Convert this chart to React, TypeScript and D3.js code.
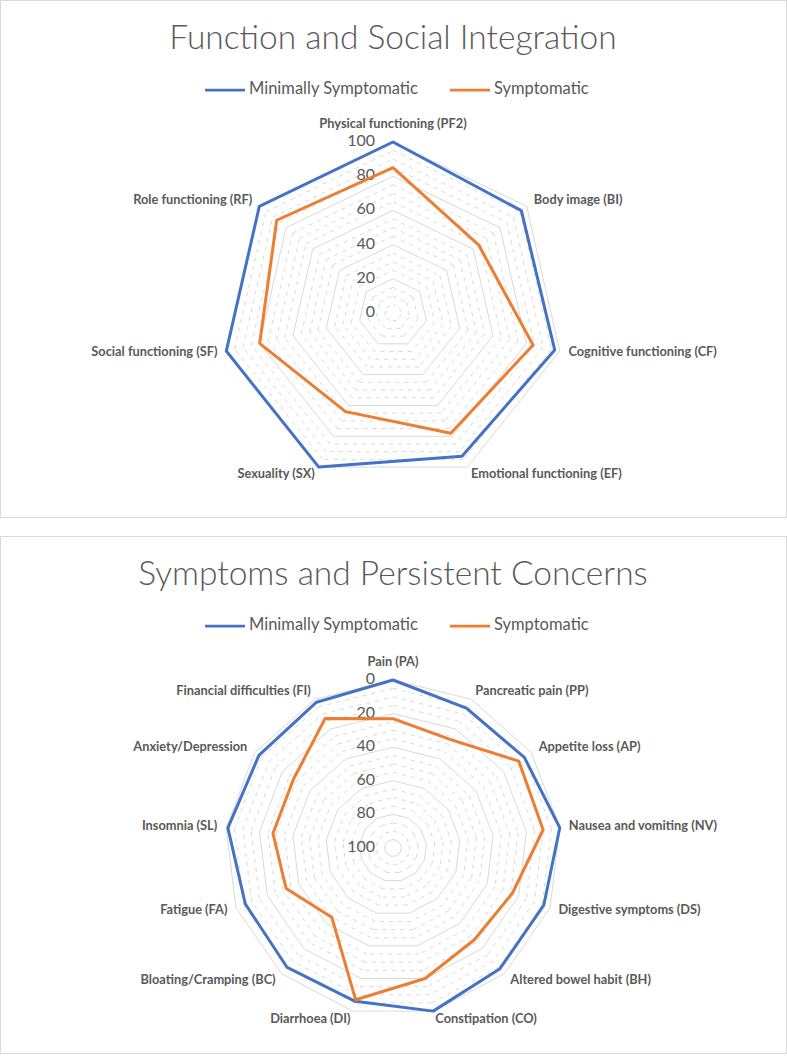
import React from "react";
import * as d3 from "d3";

const funcCategories = [
  "Physical functioning (PF2)",
  "Body image (BI)",
  "Cognitive functioning (CF)",
  "Emotional functioning (EF)",
  "Sexuality (SX)",
  "Social functioning (SF)",
  "Role functioning (RF)",
];
const funcMinimal = [100, 96, 97, 93, 100, 100, 100];
const funcSymptomatic = [85, 64, 84, 78, 64, 80, 87];

const sympCategories = [
  "Pain (PA)",
  "Pancreatic pain (PP)",
  "Appetite loss (AP)",
  "Nausea and vomiting (NV)",
  "Digestive symptoms (DS)",
  "Altered bowel habit (BH)",
  "Constipation (CO)",
  "Diarrhoea (DI)",
  "Bloating/Cramping (BC)",
  "Fatigue (FA)",
  "Insomnia (SL)",
  "Anxiety/Depression",
  "Financial difficulties (FI)",
];
const sympMinimal = [0, 6, 5, 0, 4, 4, 0, 6, 5, 6, 1, 3, 2];
const sympSymptomatic = [23, 27, 9, 10, 24, 27, 20, 7, 45, 32, 28, 28, 13];

const tickValues = [0, 20, 40, 60, 80, 100];
const minorValues = d3.range(0, 101, 5).filter((v) => v % 20 !== 0);

const seriesNames = ["Minimally Symptomatic", "Symptomatic"];
const seriesColors = ["#4472C4", "#ED7D31"];

const FONT = "Lato, 'Open Sans', sans-serif";
const TEXT = "#595959";
const GRID = "#d9d9d9";

type RadarProps = {
  top: number;
  title: string;
  cx: number;
  cy: number;
  radius: number;
  categories: string[];
  series: number[][];
  reversed: boolean;
};

function Radar({ top, title, cx, cy, radius, categories, series, reversed }: RadarProps) {
  const n = categories.length;
  const r = d3
    .scaleLinear()
    .domain([0, 100])
    .range(reversed ? [radius, 0] : [0, radius]);
  const angle = d3
    .scalePoint<number>()
    .domain(d3.range(n + 1))
    .range([0, 2 * Math.PI]);

  const pt = (i: number, rad: number): [number, number] => {
    const a = angle(i) as number;
    return [cx + rad * Math.sin(a), cy - rad * Math.cos(a)];
  };

  const ringPath = (v: number) => {
    const line = d3
      .lineRadial<number>()
      .angle((_, i) => angle(i) as number)
      .radius(() => r(v))
      .curve(d3.curveLinearClosed);
    return line(d3.range(n)) as string;
  };

  const seriesLine = d3
    .lineRadial<number>()
    .angle((_, i) => angle(i) as number)
    .radius((d) => r(d))
    .curve(d3.curveLinearClosed);

  return (
    <g>
      <rect
        x={0.5}
        y={top + 0.5}
        width={786}
        height={517}
        fill="#fff"
        stroke={GRID}
        strokeWidth={1}
      />
      <text
        x={393}
        y={top + 41}
        textAnchor="middle"
        dominantBaseline="middle"
        fontFamily={FONT}
        fontSize={33.5}
        fill={TEXT}
        fontWeight={300}
      >
        {title}
      </text>
      {/* legend */}
      {seriesNames.map((name, k) => {
        const x0 = k === 0 ? 205 : 450;
        return (
          <g key={name}>
            <line
              x1={x0}
              x2={x0 + 40}
              y1={top + 90}
              y2={top + 90}
              stroke={seriesColors[k]}
              strokeWidth={2.75}
            />
            <text
              x={x0 + 44}
              y={top + 90}
              dominantBaseline="middle"
              fontFamily={FONT}
              fontSize={16.5}
              fill={TEXT}
            >
              {name}
            </text>
          </g>
        );
      })}
      {/* minor dashed rings */}
      {minorValues.map((v) =>
        d3.range(n).map((i) => {
          const [x1, y1] = pt(i, r(v));
          const [x2, y2] = pt(i + 1, r(v));
          return (
            <line
              key={`m${v}-${i}`}
              x1={x1}
              y1={y1}
              x2={x2}
              y2={y2}
              stroke={GRID}
              strokeWidth={1}
              strokeDasharray="4 5"
            />
          );
        })
      )}
      {/* major rings */}
      {tickValues
        .filter((v) => r(v) > 0)
        .map((v) => (
          <path
            key={`M${v}`}
            d={ringPath(v)}
            transform={`translate(${cx},${cy})`}
            fill="none"
            stroke={GRID}
            strokeWidth={1}
          />
        ))}
      {/* tick labels */}
      {tickValues.map((v) => (
        <text
          key={`t${v}`}
          x={cx - 18}
          y={cy - r(v)}
          textAnchor="end"
          dominantBaseline="middle"
          fontFamily={FONT}
          fontSize={16}
          fill={TEXT}
        >
          {v}
        </text>
      ))}
      {/* series */}
      {series.map((vals, k) => (
        <path
          key={`s${k}`}
          d={seriesLine(vals) as string}
          transform={`translate(${cx},${cy})`}
          fill="none"
          stroke={seriesColors[k]}
          strokeWidth={3}
          strokeLinejoin="round"
        />
      ))}
      {/* category labels */}
      {categories.map((c, i) => {
        const a = angle(i) as number;
        const s = Math.sin(a);
        const co = Math.cos(a);
        const [x, y] = pt(i, radius + 9);
        const anchor = s > 0.1 ? "start" : s < -0.1 ? "end" : "middle";
        return (
          <text
            key={c}
            x={x}
            y={y - (co > 0.9 ? 8 : 0)}
            textAnchor={anchor}
            dominantBaseline="middle"
            fontFamily={FONT}
            fontSize={12.8}
            fontWeight={700}
            fill={TEXT}
          >
            {c}
          </text>
        );
      })}
    </g>
  );
}

export default function App() {
  return (
    <svg
      width={787}
      height={1056}
      style={{ position: "absolute", left: 0, top: 0, background: "#fff" }}
    >
      <Radar
        top={0}
        title="Function and Social Integration"
        cx={393}
        cy={313}
        radius={171}
        categories={funcCategories}
        series={[funcMinimal, funcSymptomatic]}
        reversed={false}
      />
      <Radar
        top={536}
        title="Symptoms and Persistent Concerns"
        cx={393}
        cy={848}
        radius={168}
        categories={sympCategories}
        series={[sympMinimal, sympSymptomatic]}
        reversed={true}
      />
    </svg>
  );
}
